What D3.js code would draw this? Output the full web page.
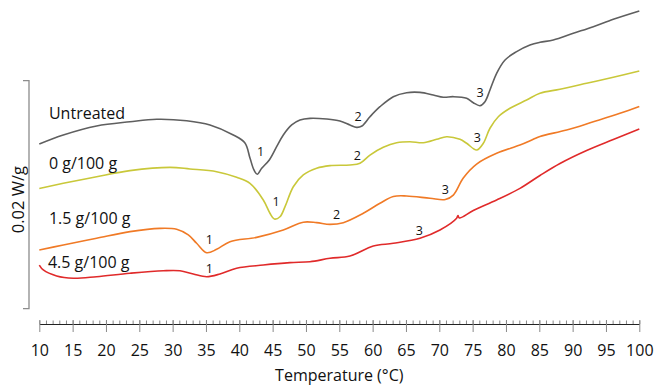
<!DOCTYPE html>
<html>
<head>
<meta charset="utf-8">
<script src="https://cdn.jsdelivr.net/npm/d3@7"></script>
<style>
  html, body { margin: 0; padding: 0; background: #fff; }
  svg { display: block; font-family: "Open Sans", "DejaVu Sans", sans-serif; }
</style>
</head>
<body>
<svg id="chart" width="655" height="387"></svg>
<script>
// DSC heat-flow traces (mW/g, curves offset vertically; endo down)
const seriesNames = ["Untreated", "0 g/100 g", "1.5 g/100 g", "4.5 g/100 g"];
const seriesColors = ["#5f5f5f", "#c9c83a", "#f07a26", "#e02a2a"];

const untreatedT = [10, 13.6, 18.6, 23.6, 27.6, 32.1, 35.6, 39.1, 40.85, 41.6, 42.2, 42.7, 43.36, 44.5, 45.6, 46.6, 47.86, 49.1, 50.6, 53.1, 55.1, 56.6, 57.6, 58.4, 59.6, 61.1, 63.1, 65.1, 67.1, 69.1, 70.6, 72.1, 74.1, 75.1, 76.1, 76.85, 77.6, 78.6, 79.86, 81.6, 83.6, 85.1, 87.1, 90.1, 93.1, 96.1, 100];
const untreatedV = [15.44, 16.23, 17.02, 17.39, 17.61, 17.48, 17.11, 16.23, 15.53, 14.21, 13.16, 12.78, 13.31, 14.04, 15.20, 16.23, 17.11, 17.54, 17.69, 17.63, 17.46, 17.11, 16.90, 17.02, 17.83, 18.71, 19.59, 19.94, 19.97, 19.74, 19.54, 19.59, 19.45, 19.06, 18.80, 19.15, 20.18, 21.64, 22.81, 23.54, 24.12, 24.36, 24.56, 25.15, 25.73, 26.38, 27.11];

const zeroT = [10, 13.6, 18.6, 23.6, 29.6, 32.6, 36.6, 39.6, 41.6, 43.6, 44.6, 45.25, 46.1, 46.86, 48.1, 49.6, 51.6, 53.6, 56.6, 58.1, 59.6, 61.6, 63.6, 65.6, 67.6, 69.6, 71.1, 73.1, 74.1, 75.6, 76.6, 77.6, 78.85, 80.6, 83.1, 85.1, 88.1, 92.1, 96.1, 100];
const zeroV = [11.54, 11.99, 12.57, 13.10, 13.39, 13.25, 13.01, 12.52, 11.99, 10.53, 9.36, 8.86, 9.06, 9.94, 11.69, 12.72, 13.31, 13.54, 13.60, 13.75, 14.47, 15.15, 15.55, 15.64, 15.55, 15.85, 16.08, 15.85, 15.50, 14.91, 15.50, 16.82, 17.83, 18.57, 19.30, 19.89, 20.24, 20.76, 21.29, 21.84];

const onePointFiveT = [10, 13.6, 18.6, 23.6, 28.1, 30.6, 32.35, 33.6, 35.1, 36.6, 38.6, 42.6, 46.6, 49.6, 51.6, 53.6, 55.6, 58.6, 61.1, 63.1, 65.1, 68.6, 70.9, 72.1, 73.6, 75.6, 78.6, 82.1, 84.1, 85.1, 89.1, 93.1, 97.1, 100];
const onePointFiveV = [6.14, 6.58, 7.17, 7.75, 8.04, 7.96, 7.46, 6.73, 5.90, 6.20, 6.87, 7.25, 7.89, 8.58, 8.54, 8.39, 8.54, 9.36, 10.24, 10.83, 10.88, 10.68, 10.57, 10.96, 12.46, 13.68, 14.62, 15.35, 15.85, 16.10, 16.67, 17.39, 18.13, 18.73];

const fourPointFiveT = [10, 10.6, 12.6, 15.1, 18.6, 23.6, 28.6, 31.1, 33.1, 35.1, 37.1, 39.6, 43.6, 47.6, 50.6, 53.6, 56.6, 60.1, 63.1, 67.1, 70.1, 72.6, 72.8, 73.0, 75.1, 78.6, 82.1, 85.1, 88.1, 92.1, 96.1, 100];
const fourPointFiveV = [4.82, 4.39, 3.86, 3.66, 3.80, 4.10, 4.32, 4.32, 4.04, 3.80, 4.04, 4.54, 4.82, 5.03, 5.11, 5.41, 5.61, 6.49, 6.73, 7.17, 7.89, 8.92, 9.17, 8.95, 9.61, 10.53, 11.55, 12.68, 13.73, 14.87, 15.83, 16.75];

// Transition numbers: series index, label, temperature, heat-flow position
const peakSeries = [0, 0, 0, 1, 1, 1, 2, 2, 2, 3, 3];
const peakLabels = ["1", "2", "3", "1", "2", "3", "1", "2", "3", "1", "3"];
const peakT = [43.2, 57.8, 76.1, 45.5, 57.7, 75.7, 35.5, 54.6, 70.9, 35.5, 67.0];
const peakV = [14.76, 17.83, 19.94, 10.38, 14.39, 16.03, 7.08, 9.21, 11.40, 4.54, 7.83];

// Series name labels: temperature and heat-flow position of each name
const nameT = [11.45, 11.45, 11.45, 11.3];
const nameV = [18.13, 13.74, 8.92, 5.09];

const xTicks = d3.range(10, 101, 5);
const xMinorTicks = d3.range(10, 101, 1);
const scaleBarV = [1, 21]; // 20 mW/g = 0.02 W/g

const svg = d3.select("#chart");

const x = d3.scaleLinear().domain([10, 100]).range([39.3, 639.3]);
const y = d3.scaleLinear().domain([0, 28]).range([320, 320 - 28 * 11.4]);

const seriesData = [
  d3.zip(untreatedT, untreatedV),
  d3.zip(zeroT, zeroV),
  d3.zip(onePointFiveT, onePointFiveV),
  d3.zip(fourPointFiveT, fourPointFiveV)
];

const line = d3.line()
  .x(d => x(d[0]))
  .y(d => y(d[1]))
  .curve(d3.curveCatmullRom.alpha(0.5));

svg.append("g")
  .selectAll("path")
  .data(seriesData)
  .join("path")
  .attr("d", line)
  .attr("fill", "none")
  .attr("stroke", (d, i) => seriesColors[i])
  .attr("stroke-width", 1.6)
  .attr("stroke-linejoin", "round");

// x axis: minor ticks above the line, major ticks crossing it
const axisY = 324;
const minor = svg.append("g")
  .attr("transform", `translate(0,${axisY})`)
  .call(d3.axisBottom(x).tickValues(xMinorTicks).tickSize(-3.5).tickFormat(""));
minor.select(".domain").remove();
minor.selectAll(".tick line").attr("stroke", "#8a8a8a").attr("stroke-width", 1);

const major = svg.append("g")
  .attr("transform", `translate(0,${axisY})`)
  .call(d3.axisBottom(x).tickValues(xTicks).tickSize(8).tickSizeOuter(0).tickFormat(d3.format("d")));
major.select(".domain").attr("stroke", "#222").attr("stroke-width", 1.2);
major.selectAll(".tick line").attr("y1", -4).attr("stroke", "#8a8a8a").attr("stroke-width", 1);
major.selectAll(".tick text")
  .attr("y", 26)
  .attr("dy", "0.35em")
  .attr("fill", "#111")
  .style("font-size", "16px")
  .style("font-family", "'Open Sans', sans-serif");

svg.append("text")
  .attr("x", (x(10) + x(100)) / 2)
  .attr("y", 375)
  .attr("dy", "0.35em")
  .attr("text-anchor", "middle")
  .attr("fill", "#111")
  .style("font-size", "16px")
  .text("Temperature (°C)");

// vertical scale bar
const barX = 29;
svg.append("path")
  .attr("d", `M${barX - 6},${y(scaleBarV[1])}H${barX}V${y(scaleBarV[0])}H${barX - 6}`)
  .attr("fill", "none")
  .attr("stroke", "#8c8c8c")
  .attr("stroke-width", 1.3);

svg.append("text")
  .attr("transform", `translate(18,${(y(scaleBarV[0]) + y(scaleBarV[1])) / 2 + 5}) rotate(-90)`)
  .attr("dy", "0.35em")
  .attr("text-anchor", "middle")
  .attr("fill", "#111")
  .style("font-size", "16.5px")
  .text("0.02 W/g");

// series names
svg.append("g")
  .selectAll("text")
  .data(seriesNames)
  .join("text")
  .attr("x", (d, i) => x(nameT[i]))
  .attr("y", (d, i) => y(nameV[i]))
  .attr("dy", "0.35em")
  .attr("fill", "#111")
  .style("font-size", "16px")
  .text(d => d);

// transition numbers
svg.append("g")
  .selectAll("text")
  .data(peakLabels)
  .join("text")
  .attr("x", (d, i) => x(peakT[i]))
  .attr("y", (d, i) => y(peakV[i]))
  .attr("dy", "0.35em")
  .attr("text-anchor", "middle")
  .attr("fill", "#111")
  .style("font-size", "12.5px")
  .text(d => d);
</script>
</body>
</html>
